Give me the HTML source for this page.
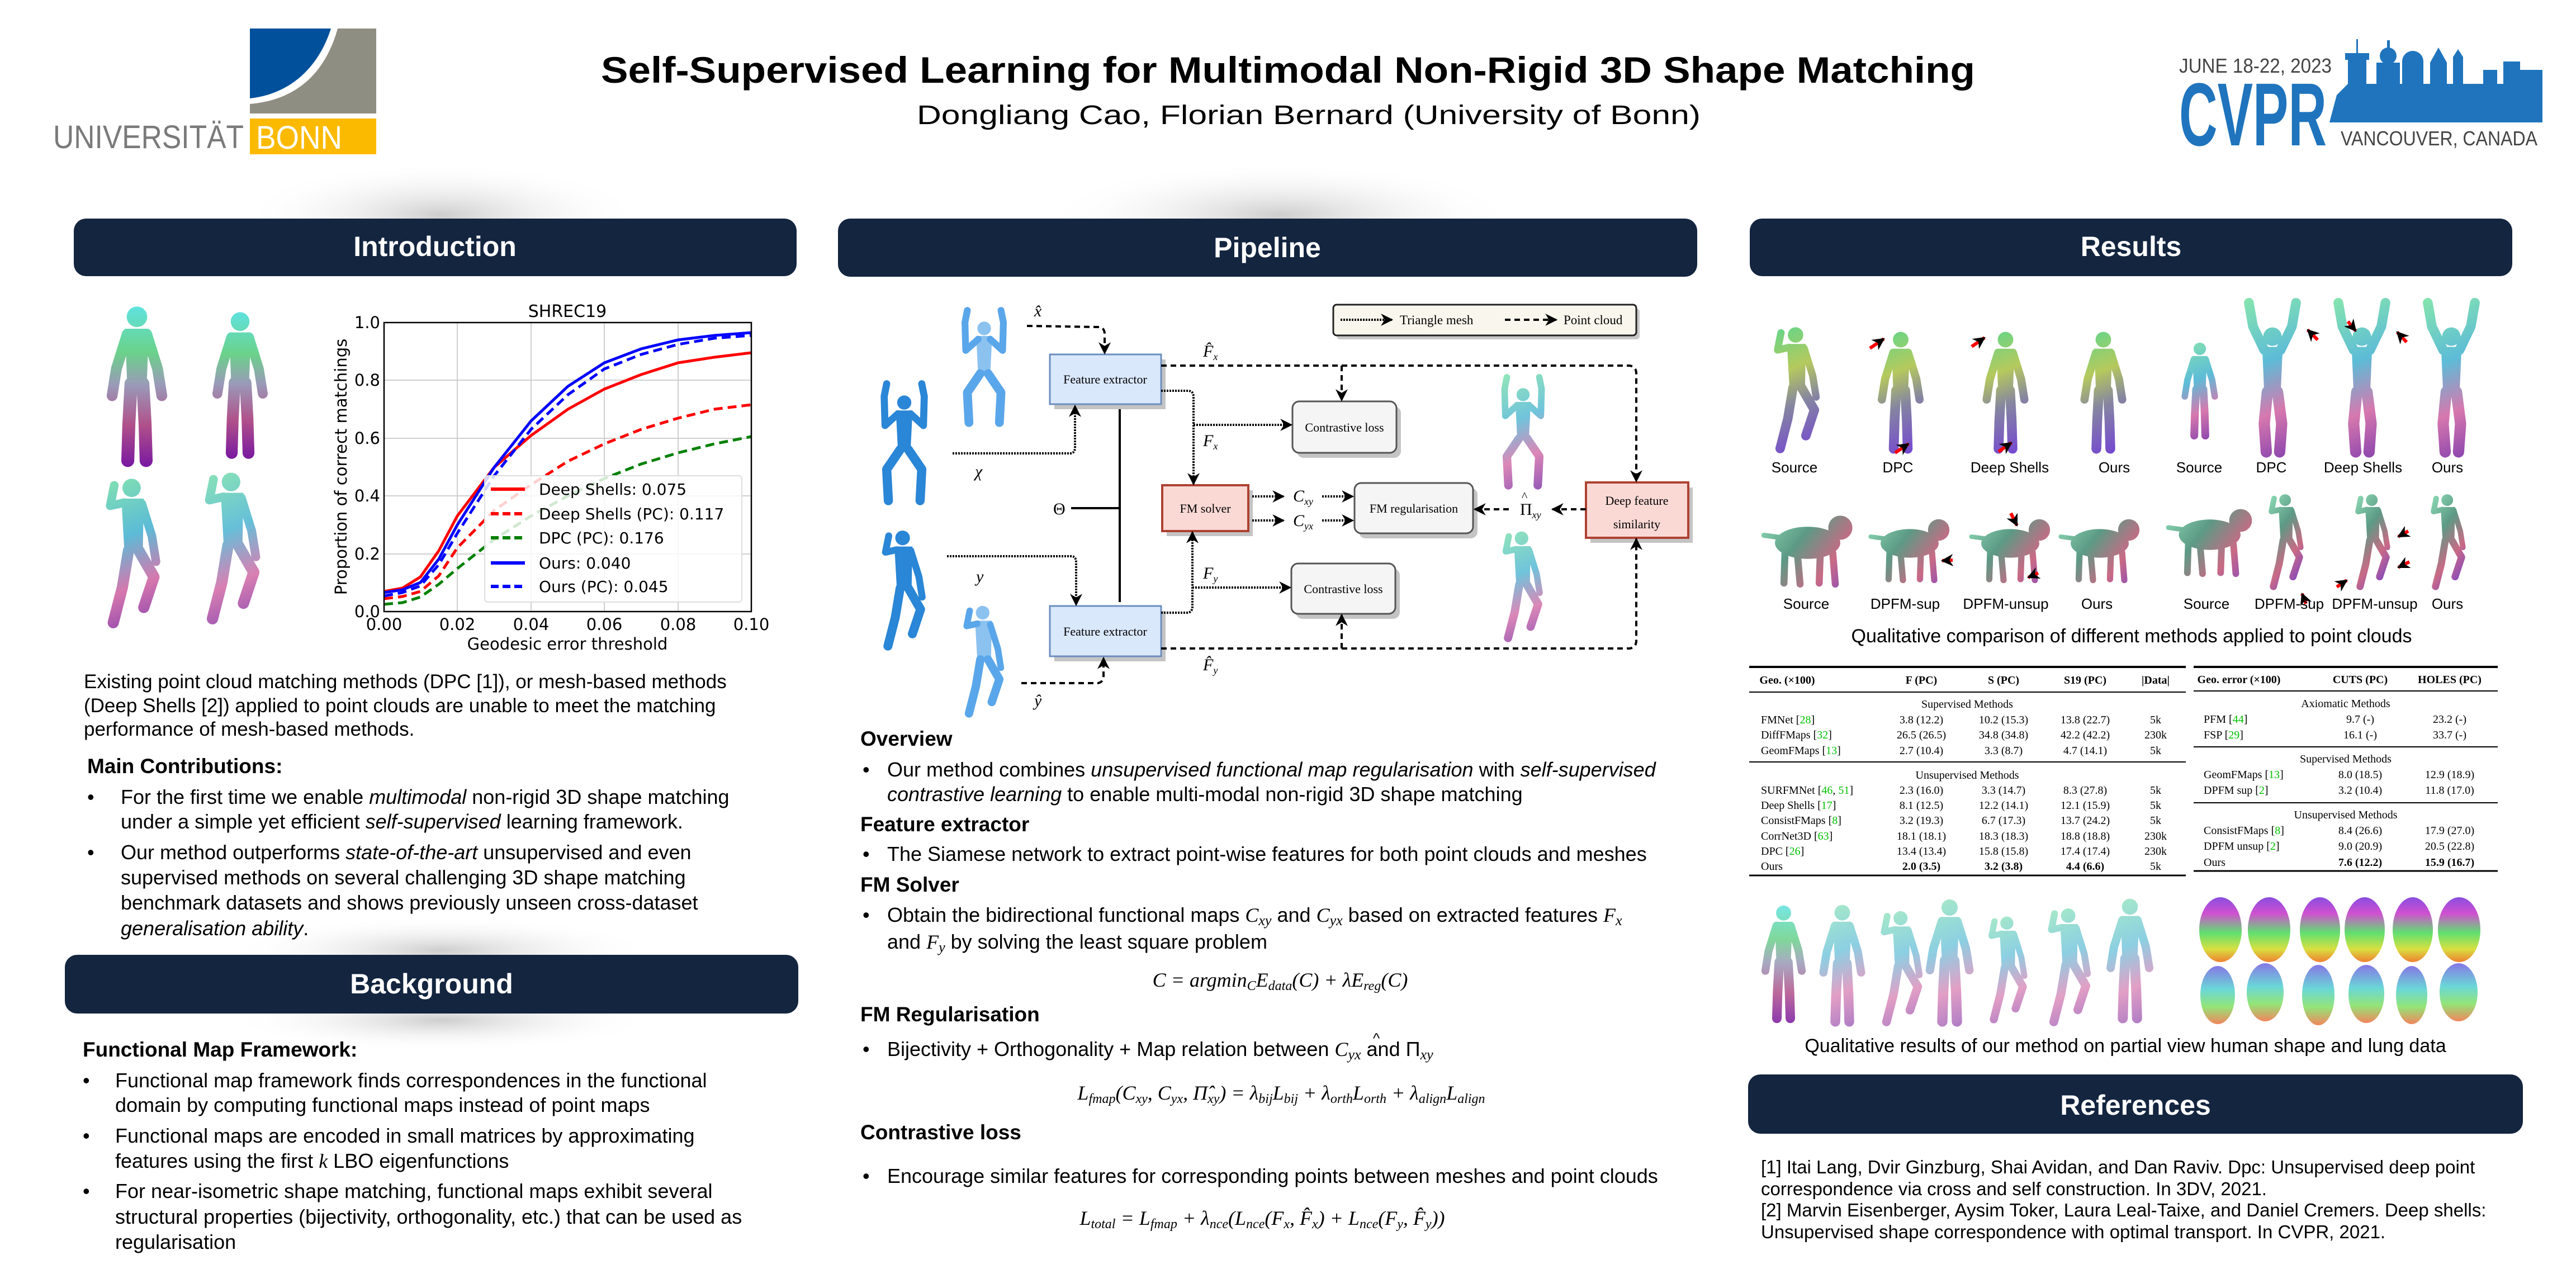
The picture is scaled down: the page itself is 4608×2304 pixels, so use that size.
<!DOCTYPE html>
<html><head><meta charset="utf-8"><style>
html,body{margin:0;padding:0;background:#fff;}
svg{display:block;}
</style></head><body>
<svg width="4608" height="2304" viewBox="0 0 4608 2304" xmlns="http://www.w3.org/2000/svg" font-family="Liberation Sans, Arial, sans-serif">
<defs>
<radialGradient id="glow" cx="0.5" cy="0.5" r="0.5"><stop offset="0" stop-color="#c8c8c8" stop-opacity="0.9"/><stop offset="1" stop-color="#ffffff" stop-opacity="0"/></radialGradient>
<linearGradient id="gM" gradientUnits="userSpaceOnUse" x1="0" y1="0" x2="0" y2="300"><stop offset="0" stop-color="#5fe3e3"/><stop offset="0.3" stop-color="#6ad28a"/><stop offset="0.5" stop-color="#9a9ab8"/><stop offset="0.75" stop-color="#b0508a"/><stop offset="1" stop-color="#7a1aa0"/></linearGradient>
<linearGradient id="gP" gradientUnits="userSpaceOnUse" x1="0" y1="0" x2="120" y2="300"><stop offset="0" stop-color="#3ed07a"/><stop offset="0.35" stop-color="#a8c040"/><stop offset="0.6" stop-color="#707090"/><stop offset="1" stop-color="#5a20d0"/></linearGradient>
<linearGradient id="gQ" gradientUnits="userSpaceOnUse" x1="0" y1="0" x2="120" y2="300"><stop offset="0" stop-color="#70e0a0"/><stop offset="0.4" stop-color="#40b0d0"/><stop offset="0.7" stop-color="#d060a0"/><stop offset="1" stop-color="#7020a0"/></linearGradient>
<linearGradient id="gC" gradientUnits="userSpaceOnUse" x1="0" y1="0" x2="200" y2="160"><stop offset="0" stop-color="#80e0b0"/><stop offset="0.4" stop-color="#408870"/><stop offset="0.7" stop-color="#c05070"/><stop offset="1" stop-color="#6020c0"/></linearGradient>
<linearGradient id="gL" x1="0" y1="0" x2="0" y2="1"><stop offset="0" stop-color="#8a4de0"/><stop offset="0.25" stop-color="#d050d0"/><stop offset="0.55" stop-color="#60e070"/><stop offset="0.8" stop-color="#d8e040"/><stop offset="1" stop-color="#f08030"/></linearGradient>
<linearGradient id="gL2" x1="0" y1="0" x2="0" y2="1"><stop offset="0" stop-color="#7060e0"/><stop offset="0.4" stop-color="#50d0d0"/><stop offset="0.7" stop-color="#80e060"/><stop offset="1" stop-color="#f07040"/></linearGradient>
<symbol id="man" viewBox="0 0 120 300" overflow="visible">
 <circle cx="60" cy="24" r="19" stroke="none"/>
 <path d="M38 46 L82 46 L78 152 L42 152 Z" stroke="none"/>
 <polyline points="42,56 22,120 14,170" fill="none" stroke-width="20" stroke-linecap="round" stroke-linejoin="round"/>
 <polyline points="78,56 98,120 106,170" fill="none" stroke-width="20" stroke-linecap="round" stroke-linejoin="round"/>
 <polyline points="49,148 45,222 43,290" fill="none" stroke-width="24" stroke-linecap="round" stroke-linejoin="round"/>
 <polyline points="71,148 75,222 77,290" fill="none" stroke-width="24" stroke-linecap="round" stroke-linejoin="round"/>
</symbol>
<symbol id="up" viewBox="0 0 120 300" overflow="visible">
 <circle cx="60" cy="70" r="18" stroke="none"/>
 <path d="M40 90 L80 90 L76 182 L44 182 Z" stroke="none"/>
 <polyline points="44,96 22,50 14,4" fill="none" stroke-width="19" stroke-linecap="round" stroke-linejoin="round"/>
 <polyline points="76,96 98,50 106,4" fill="none" stroke-width="19" stroke-linecap="round" stroke-linejoin="round"/>
 <polyline points="50,178 44,240 48,295" fill="none" stroke-width="22" stroke-linecap="round" stroke-linejoin="round"/>
 <polyline points="70,178 78,240 74,295" fill="none" stroke-width="22" stroke-linecap="round" stroke-linejoin="round"/>
</symbol>
<symbol id="squat" viewBox="0 0 120 300" overflow="visible">
 <circle cx="60" cy="55" r="17" stroke="none"/>
 <path d="M40 74 L80 74 L75 172 L45 172 Z" stroke="none"/>
 <polyline points="45,82 14,110 12,40 18,10" fill="none" stroke-width="17" stroke-linecap="round" stroke-linejoin="round"/>
 <polyline points="75,82 106,110 108,40 102,10" fill="none" stroke-width="17" stroke-linecap="round" stroke-linejoin="round"/>
 <polyline points="50,168 18,215 22,290" fill="none" stroke-width="22" stroke-linecap="round" stroke-linejoin="round"/>
 <polyline points="70,168 102,215 98,290" fill="none" stroke-width="22" stroke-linecap="round" stroke-linejoin="round"/>
</symbol>
<symbol id="kneel" viewBox="0 0 120 300" overflow="visible">
 <circle cx="56" cy="25" r="18" stroke="none"/>
 <path d="M36 46 L80 46 L78 152 L42 152 Z" stroke="none"/>
 <polyline points="42,54 14,60 22,20" fill="none" stroke-width="17" stroke-linecap="round" stroke-linejoin="round"/>
 <polyline points="76,56 96,120 104,170" fill="none" stroke-width="17" stroke-linecap="round" stroke-linejoin="round"/>
 <polyline points="50,148 38,220 20,290" fill="none" stroke-width="22" stroke-linecap="round" stroke-linejoin="round"/>
 <polyline points="70,148 100,200 80,260" fill="none" stroke-width="22" stroke-linecap="round" stroke-linejoin="round"/>
</symbol>
<symbol id="cat" viewBox="0 0 200 160" overflow="visible">
 <ellipse cx="95" cy="70" rx="65" ry="32" stroke="none"/>
 <circle cx="160" cy="40" r="24" stroke="none"/>
 <polyline points="45,60 8,55" fill="none" stroke-width="10" stroke-linecap="round"/>
 <polyline points="50,90 48,150" fill="none" stroke-width="14" stroke-linecap="round"/>
 <polyline points="75,95 80,152" fill="none" stroke-width="14" stroke-linecap="round"/>
 <polyline points="120,95 118,150" fill="none" stroke-width="14" stroke-linecap="round"/>
 <polyline points="145,90 150,152" fill="none" stroke-width="14" stroke-linecap="round"/>
</symbol>
<marker id="ar" viewBox="0 0 10 10" refX="9" refY="5" markerUnits="userSpaceOnUse" markerWidth="22" markerHeight="22" orient="auto"><path d="M0,0 L10,5 L0,10 L3,5 z" fill="#000"/></marker>
</defs>

<!-- ===== HEADER ===== -->
<path d="M447 51 L592 51 C570 120 520 168 447 176 Z" fill="#00509b"/>
<path d="M604 51 L673 51 L673 203 L447 203 L447 186 C540 178 585 120 604 51 Z" fill="#8f8e82"/>
<rect x="447" y="212" width="226" height="64" fill="#fbba00"/>
<text x="95" y="265" font-size="58" fill="#7a7a7a" textLength="341" lengthAdjust="spacingAndGlyphs">UNIVERSITÄT</text>
<text x="458" y="266" font-size="58" fill="#fff" textLength="154" lengthAdjust="spacingAndGlyphs">BONN</text>

<text x="2304" y="148" font-size="66" font-weight="bold" text-anchor="middle" textLength="2458" lengthAdjust="spacingAndGlyphs">Self-Supervised Learning for Multimodal Non-Rigid 3D Shape Matching</text>
<text x="2341" y="222" font-size="48" text-anchor="middle" textLength="1402" lengthAdjust="spacingAndGlyphs">Dongliang Cao, Florian Bernard (University of Bonn)</text>

<text x="3898" y="130" font-size="36" fill="#444" textLength="273" lengthAdjust="spacingAndGlyphs">JUNE 18-22, 2023</text>
<text x="3898" y="260" font-size="160" font-weight="bold" fill="#1f74bd" textLength="264" lengthAdjust="spacingAndGlyphs">CVPR</text>
<text x="4187" y="260" font-size="36" fill="#444" textLength="352" lengthAdjust="spacingAndGlyphs">VANCOUVER, CANADA</text>
<g fill="#1f74bd">
 <path d="M4167 219 L4180 170 L4200 150 L4548 150 L4548 219 Z"/>
 <rect x="4200" y="105" width="33" height="114"/><rect x="4195" y="95" width="43" height="12"/><rect x="4215" y="70" width="3" height="26"/>
 <rect x="4251" y="112" width="42" height="107"/><circle cx="4272" cy="100" r="15"/><rect x="4270" y="72" width="5" height="14"/>
 <rect x="4297" y="110" width="38" height="109"/><circle cx="4316" cy="110" r="19"/>
 <rect x="4347" y="112" width="30" height="107"/><path d="M4347 112 L4362 85 L4377 112 Z"/>
 <rect x="4388" y="102" width="18" height="117"/><path d="M4388 102 L4397 88 L4406 102 Z"/>
 <rect x="4442" y="125" width="25" height="94"/><rect x="4478" y="110" width="30" height="109"/><rect x="4508" y="125" width="40" height="94"/>
</g>

<!-- header glows -->
<ellipse cx="790" cy="385" rx="360" ry="95" fill="url(#glow)"/>
<ellipse cx="2290" cy="385" rx="420" ry="95" fill="url(#glow)"/>
<ellipse cx="790" cy="1700" rx="380" ry="60" fill="url(#glow)"/>
<ellipse cx="790" cy="1825" rx="380" ry="55" fill="url(#glow)"/>

<!-- section headers -->
<g fill="#13253f">
 <rect x="132" y="391" width="1293" height="103" rx="22"/>
 <rect x="1499" y="391" width="1537" height="104" rx="22"/>
 <rect x="3130" y="391" width="1364" height="103" rx="22"/>
 <rect x="116" y="1708" width="1312" height="105" rx="22"/>
 <rect x="3127" y="1922" width="1386" height="106" rx="22"/>
</g>
<g fill="#fff" font-weight="bold" font-size="50" text-anchor="middle">
 <text x="778" y="458">Introduction</text>
 <text x="2267" y="460">Pipeline</text>
 <text x="3812" y="458">Results</text>
 <text x="772" y="1777">Background</text>
 <text x="3820" y="1994">References</text>
</g>

<!-- ===== INTRO ===== -->
<use href="#man" x="187" y="540" width="116" height="297" fill="url(#gM)" stroke="url(#gM)"/>
<use href="#man" x="349" y="554" width="161" height="265" fill="url(#gM)" stroke="url(#gM)"/>
<use href="#kneel" x="183" y="850" width="112" height="273" fill="url(#gQ)" stroke="url(#gQ)" opacity="0.85"/>
<use href="#kneel" x="361" y="839" width="112" height="277" fill="url(#gQ)" stroke="url(#gQ)" opacity="0.8"/>

<!-- plot -->
<g stroke="#cfcfcf" stroke-width="2">
 <line x1="818" y1="577" x2="818" y2="1094"/><line x1="950" y1="577" x2="950" y2="1094"/><line x1="1081" y1="577" x2="1081" y2="1094"/><line x1="1213" y1="577" x2="1213" y2="1094"/>
 <line x1="687" y1="680" x2="1344" y2="680"/><line x1="687" y1="784" x2="1344" y2="784"/><line x1="687" y1="887" x2="1344" y2="887"/><line x1="687" y1="991" x2="1344" y2="991"/>
</g>
<g fill="none" stroke-width="5">
 <polyline stroke="#008000" stroke-dasharray="16 9" points="687,1081 720,1078 752,1068 785,1045 818,1017 884,965 950,923 1016,887 1081,856 1147,830 1213,810 1278,794 1344,781"/>
 <polyline stroke="#ff0000" stroke-dasharray="16 9" points="687,1071 720,1067 752,1058 785,1030 818,980 884,913 950,867 1016,825 1081,794 1147,768 1213,748 1278,732 1344,724"/>
 <polyline stroke="#ff0000" points="687,1058 720,1052 752,1032 785,985 818,923 884,836 950,779 1016,732 1081,696 1147,670 1213,649 1278,639 1344,631"/>
 <polyline stroke="#0000ff" stroke-dasharray="16 9" points="687,1066 720,1060 752,1048 785,1010 818,954 884,851 950,768 1016,706 1081,660 1147,634 1213,616 1278,605 1344,600"/>
 <polyline stroke="#0000ff" points="687,1060 720,1055 752,1042 785,1000 818,939 884,836 950,753 1016,691 1081,649 1147,624 1213,608 1278,600 1344,595"/>
</g>
<rect x="687" y="577" width="657" height="517" fill="none" stroke="#000" stroke-width="2.5"/>
<rect x="867" y="851" width="460" height="226" rx="6" fill="#fff" fill-opacity="0.82" stroke="#ddd" stroke-width="2"/>
<g stroke-width="6">
 <line x1="878" y1="875" x2="939" y2="875" stroke="#ff0000"/>
 <line x1="878" y1="919" x2="939" y2="919" stroke="#ff0000" stroke-dasharray="14 7"/>
 <line x1="878" y1="962" x2="939" y2="962" stroke="#008000" stroke-dasharray="14 7"/>
 <line x1="878" y1="1007" x2="939" y2="1007" stroke="#0000ff"/>
 <line x1="878" y1="1049" x2="939" y2="1049" stroke="#0000ff" stroke-dasharray="14 7"/>
</g>
<g font-family="DejaVu Sans, sans-serif" font-size="28">
 <text x="964" y="885">Deep Shells: 0.075</text>
 <text x="964" y="929">Deep Shells (PC): 0.117</text>
 <text x="964" y="972">DPC (PC): 0.176</text>
 <text x="964" y="1017">Ours: 0.040</text>
 <text x="964" y="1059">Ours (PC): 0.045</text>
 <text x="1015" y="567" font-size="30" text-anchor="middle">SHREC19</text>
 <g text-anchor="end" font-size="29"><text x="680" y="587">1.0</text><text x="680" y="690">0.8</text><text x="680" y="794">0.6</text><text x="680" y="897">0.4</text><text x="680" y="1001">0.2</text><text x="680" y="1104">0.0</text></g>
 <g text-anchor="middle" font-size="29"><text x="687" y="1127">0.00</text><text x="818" y="1127">0.02</text><text x="950" y="1127">0.04</text><text x="1081" y="1127">0.06</text><text x="1213" y="1127">0.08</text><text x="1344" y="1127">0.10</text></g>
 <text x="1015" y="1162" font-size="29" text-anchor="middle">Geodesic error threshold</text>
 <text transform="translate(620,835) rotate(-90)" font-size="29" text-anchor="middle">Proportion of correct matchings</text>
</g>

<!-- intro text -->
<g font-size="35" fill="#000">
 <text x="150" y="1231">Existing point cloud matching methods (DPC [1]), or mesh-based methods</text>
 <text x="150" y="1274">(Deep Shells [2]) applied to point clouds are unable to meet the matching</text>
 <text x="150" y="1316">performance of mesh-based methods.</text>
 <text x="156" y="1383" font-weight="bold" font-size="37">Main Contributions:</text>
 <g font-size="36">
 <text x="156" y="1438">•</text><text x="216" y="1438">For the first time we enable <tspan font-style="italic">multimodal</tspan> non-rigid 3D shape matching</text>
 <text x="216" y="1482">under a simple yet efficient <tspan font-style="italic">self-supervised</tspan> learning framework.</text>
 <text x="156" y="1537">•</text><text x="216" y="1537">Our method outperforms <tspan font-style="italic">state-of-the-art</tspan> unsupervised and even</text>
 <text x="216" y="1582">supervised methods on several challenging 3D shape matching</text>
 <text x="216" y="1627">benchmark datasets and shows previously unseen cross-dataset</text>
 <text x="216" y="1673"><tspan font-style="italic">generalisation ability</tspan>.</text>
 <text x="148" y="1890" font-weight="bold" font-size="37">Functional Map Framework:</text>
 <text x="148" y="1945">•</text><text x="206" y="1945">Functional map framework finds correspondences in the functional</text>
 <text x="206" y="1989">domain by computing functional maps instead of point maps</text>
 <text x="148" y="2044">•</text><text x="206" y="2044">Functional maps are encoded in small matrices by approximating</text>
 <text x="206" y="2089">features using the first <tspan font-family="Liberation Serif, serif" font-style="italic">k</tspan> LBO eigenfunctions</text>
 <text x="148" y="2143">•</text><text x="206" y="2143">For near-isometric shape matching, functional maps exhibit several</text>
 <text x="206" y="2189">structural properties (bijectivity, orthogonality, etc.) that can be used as</text>
 <text x="206" y="2234">regularisation</text>
 </g>
</g>

<!-- ===== PIPELINE DIAGRAM ===== -->
<use href="#squat" x="1546" y="679" width="143" height="224" fill="#2a86d6" stroke="#2a86d6"/>
<use href="#squat" x="1694" y="548" width="133" height="215" fill="#8cc2f0" stroke="#5aa6ea"/>
<use href="#kneel" x="1546" y="944" width="143" height="219" fill="#2a86d6" stroke="#2a86d6"/>
<use href="#kneel" x="1694" y="1079" width="133" height="204" fill="#8cc2f0" stroke="#5aa6ea"/>
<use href="#squat" x="2658" y="668" width="133" height="207" fill="url(#gQ)" stroke="url(#gQ)" opacity="0.75"/>
<use href="#kneel" x="2658" y="946" width="133" height="202" fill="url(#gQ)" stroke="url(#gQ)" opacity="0.75"/>

<!-- legend -->
<rect x="2391" y="552" width="542" height="55" rx="6" fill="#c8c8c8"/>
<rect x="2385" y="545" width="542" height="55" rx="6" fill="#f9f7ed" stroke="#222" stroke-width="3"/>
<line x1="2398" y1="572" x2="2490" y2="572" stroke="#000" stroke-width="4" stroke-dasharray="3 2" marker-end="url(#ar)"/>
<line x1="2692" y1="572" x2="2784" y2="572" stroke="#000" stroke-width="4" stroke-dasharray="10 7" marker-end="url(#ar)"/>
<g font-family="Liberation Serif, serif" font-size="23">
<text x="2504" y="580">Triangle mesh</text><text x="2797" y="580">Point cloud</text>
</g>

<!-- boxes with shadows -->
<g fill="#c4c4c4">
 <rect x="1886" y="643" width="199" height="89"/><rect x="1886" y="1093" width="199" height="90"/>
 <rect x="2087" y="877" width="154" height="82"/><rect x="2845" y="872" width="183" height="99"/>
 <rect x="2320" y="727" width="186" height="92" rx="12"/><rect x="2318" y="1017" width="186" height="90" rx="12"/>
 <rect x="2431" y="873" width="212" height="90" rx="12"/>
</g>
<rect x="1878" y="634" width="199" height="89" fill="#dae8fc" stroke="#6c8ebf" stroke-width="3"/>
<rect x="1878" y="1084" width="199" height="90" fill="#dae8fc" stroke="#6c8ebf" stroke-width="3"/>
<rect x="2079" y="868" width="154" height="82" fill="#fad9d5" stroke="#ae4132" stroke-width="4"/>
<rect x="2837" y="863" width="183" height="99" fill="#fad9d5" stroke="#ae4132" stroke-width="4"/>
<rect x="2312" y="718" width="186" height="92" rx="12" fill="#f5f5f5" stroke="#555" stroke-width="3"/>
<rect x="2310" y="1008" width="186" height="90" rx="12" fill="#f5f5f5" stroke="#555" stroke-width="3"/>
<rect x="2423" y="864" width="212" height="90" rx="12" fill="#f5f5f5" stroke="#555" stroke-width="3"/>
<g font-family="Liberation Serif, serif" font-size="22" text-anchor="middle">
 <text x="1977" y="686">Feature extractor</text>
 <text x="1977" y="1137">Feature extractor</text>
 <text x="2156" y="917">FM solver</text>
 <text x="2405" y="772">Contrastive loss</text>
 <text x="2403" y="1061">Contrastive loss</text>
 <text x="2529" y="917">FM regularisation</text>
 <text x="2928" y="903">Deep feature</text>
 <text x="2928" y="945">similarity</text>
</g>
<!-- connectors -->
<g fill="none" stroke="#000" stroke-width="4">
 <path d="M1837 583 L1966 585 Q1976 586 1976 598 L1976 632" stroke-dasharray="10 7" marker-end="url(#ar)"/>
 <path d="M1704 811 L1914 811 Q1923 811 1923 800 L1923 726" stroke-dasharray="3 2" marker-end="url(#ar)"/>
 <path d="M1694 995 L1916 995 Q1925 995 1925 1006 L1925 1082" stroke-dasharray="3 2" marker-end="url(#ar)"/>
 <path d="M1827 1222 L1964 1222 Q1974 1220 1974 1210 L1974 1177" stroke-dasharray="10 7" marker-end="url(#ar)"/>
 <path d="M2077 654 L2915 654 Q2927 656 2927 668 L2927 861" stroke-dasharray="10 7" marker-end="url(#ar)"/>
 <path d="M2400 654 L2400 716" stroke-dasharray="10 7" marker-end="url(#ar)"/>
 <path d="M2077 699 L2126 699 Q2135 700 2135 710 L2135 866" stroke-dasharray="3 2" marker-end="url(#ar)"/>
 <path d="M2135 760 L2310 760" stroke-dasharray="3 2" marker-end="url(#ar)"/>
 <path d="M2077 1096 L2124 1096 Q2133 1095 2133 1085 L2133 952" stroke-dasharray="3 2" marker-end="url(#ar)"/>
 <path d="M2133 1051 L2308 1051" stroke-dasharray="3 2" marker-end="url(#ar)"/>
 <path d="M2077 1160 L2915 1160 Q2927 1158 2927 1146 L2927 964" stroke-dasharray="10 7" marker-end="url(#ar)"/>
 <path d="M2400 1160 L2400 1100" stroke-dasharray="10 7" marker-end="url(#ar)"/>
 <path d="M2240 888 L2296 888" stroke-dasharray="3 2" marker-end="url(#ar)"/>
 <path d="M2365 888 L2420 888" stroke-dasharray="3 2" marker-end="url(#ar)"/>
 <path d="M2240 931 L2296 931" stroke-dasharray="3 2" marker-end="url(#ar)"/>
 <path d="M2365 931 L2420 931" stroke-dasharray="3 2" marker-end="url(#ar)"/>
 <path d="M2837 911 L2777 911" stroke-dasharray="10 7" marker-end="url(#ar)"/>
 <path d="M2699 911 L2638 911" stroke-dasharray="10 7" marker-end="url(#ar)"/>
 <path d="M2003 732 L2003 1077 M1916 909 L2003 909"/>
</g>
<g font-family="Liberation Serif, serif" font-style="italic" font-size="30">
 <text x="1850" y="566">x̂</text><text x="1744" y="853">χ</text><text x="1746" y="1041">y</text><text x="1850" y="1263">ŷ</text>
 <text x="1884" y="920" font-style="normal">Θ</text>
 <text x="2152" y="638">F̂<tspan font-size="18" dy="6">x</tspan></text>
 <text x="2152" y="798">F<tspan font-size="18" dy="6">x</tspan></text>
 <text x="2152" y="1035">F<tspan font-size="18" dy="6">y</tspan></text>
 <text x="2152" y="1199">F̂<tspan font-size="18" dy="6">y</tspan></text>
 <text x="2313" y="897">C<tspan font-size="18" dy="6">xy</tspan></text>
 <text x="2313" y="941">C<tspan font-size="18" dy="6">yx</tspan></text>
 <text x="2719" y="921" font-style="normal">Π<tspan font-size="18" dy="6" font-style="italic">xy</tspan></text>
 <text x="2722" y="895" font-style="normal" font-size="22">^</text>
</g>

<!-- pipeline text -->
<g font-size="36">
 <text x="1539" y="1334" font-weight="bold" font-size="37">Overview</text>
 <text x="1543" y="1389">•</text><text x="1587" y="1389">Our method combines <tspan font-style="italic">unsupervised functional map regularisation</tspan> with <tspan font-style="italic">self-supervised</tspan></text>
 <text x="1587" y="1433"><tspan font-style="italic">contrastive learning</tspan> to enable multi-modal non-rigid 3D shape matching</text>
 <text x="1539" y="1487" font-weight="bold" font-size="37">Feature extractor</text>
 <text x="1543" y="1540">•</text><text x="1587" y="1540">The Siamese network to extract point-wise features for both point clouds and meshes</text>
 <text x="1539" y="1595" font-weight="bold" font-size="37">FM Solver</text>
 <text x="1543" y="1649">•</text><text x="1587" y="1649">Obtain the bidirectional functional maps <tspan font-family="Liberation Serif, serif" font-style="italic">C<tspan font-size="26" dy="6">xy</tspan></tspan><tspan dy="-6"> and </tspan><tspan font-family="Liberation Serif, serif" font-style="italic">C<tspan font-size="26" dy="6">yx</tspan></tspan><tspan dy="-6"> based on extracted features </tspan><tspan font-family="Liberation Serif, serif" font-style="italic">F<tspan font-size="26" dy="6">x</tspan></tspan></text>
 <text x="1587" y="1697">and <tspan font-family="Liberation Serif, serif" font-style="italic">F<tspan font-size="26" dy="6">y</tspan></tspan><tspan dy="-6"> by solving the least square problem</tspan></text>
 <text x="2290" y="1765" text-anchor="middle" font-family="Liberation Serif, serif" font-style="italic" font-size="36">C = argmin<tspan font-size="24" dy="6">C</tspan><tspan dy="-6">E</tspan><tspan font-size="24" dy="6">data</tspan><tspan dy="-6">(C) + λE</tspan><tspan font-size="24" dy="6">reg</tspan><tspan dy="-6">(C)</tspan></text>
 <text x="1539" y="1827" font-weight="bold" font-size="37">FM Regularisation</text>
 <text x="1543" y="1889">•</text><text x="1587" y="1889">Bijectivity + Orthogonality + Map relation between <tspan font-family="Liberation Serif, serif" font-style="italic">C<tspan font-size="26" dy="6">yx</tspan></tspan><tspan dy="-6"> and  Π</tspan><tspan font-family="Liberation Serif, serif" font-style="italic" font-size="26" dy="6">xy</tspan></text>
 <text x="2456" y="1866" font-size="26">^</text>
 <text x="2292" y="1967" text-anchor="middle" font-family="Liberation Serif, serif" font-style="italic" font-size="36">L<tspan font-size="24" dy="6">fmap</tspan><tspan dy="-6">(C</tspan><tspan font-size="24" dy="6">xy</tspan><tspan dy="-6">, C</tspan><tspan font-size="24" dy="6">yx</tspan><tspan dy="-6">, Π̂</tspan><tspan font-size="24" dy="6">xy</tspan><tspan dy="-6">) = λ</tspan><tspan font-size="24" dy="6">bij</tspan><tspan dy="-6">L</tspan><tspan font-size="24" dy="6">bij</tspan><tspan dy="-6"> + λ</tspan><tspan font-size="24" dy="6">orth</tspan><tspan dy="-6">L</tspan><tspan font-size="24" dy="6">orth</tspan><tspan dy="-6"> + λ</tspan><tspan font-size="24" dy="6">align</tspan><tspan dy="-6">L</tspan><tspan font-size="24" dy="6">align</tspan></text>
 <text x="1539" y="2038" font-weight="bold" font-size="37">Contrastive loss</text>
 <text x="1543" y="2116">•</text><text x="1587" y="2116">Encourage similar features for corresponding points between meshes and point clouds</text>
 <text x="2258" y="2191" text-anchor="middle" font-family="Liberation Serif, serif" font-style="italic" font-size="36">L<tspan font-size="24" dy="6">total</tspan><tspan dy="-6"> = L</tspan><tspan font-size="24" dy="6">fmap</tspan><tspan dy="-6"> + λ</tspan><tspan font-size="24" dy="6">nce</tspan><tspan dy="-6">(L</tspan><tspan font-size="24" dy="6">nce</tspan><tspan dy="-6">(F</tspan><tspan font-size="24" dy="6">x</tspan><tspan dy="-6">, F̂</tspan><tspan font-size="24" dy="6">x</tspan><tspan dy="-6">) + L</tspan><tspan font-size="24" dy="6">nce</tspan><tspan dy="-6">(F</tspan><tspan font-size="24" dy="6">y</tspan><tspan dy="-6">, F̂</tspan><tspan font-size="24" dy="6">y</tspan><tspan dy="-6">))</tspan></text>
</g>

<!-- ===== RESULTS ===== -->
<g opacity="0.85">
 <use href="#kneel" x="3160" y="580" width="110" height="230" fill="url(#gP)" stroke="url(#gP)"/>
 <use href="#man" x="3340" y="590" width="120" height="220" fill="url(#gP)" stroke="url(#gP)"/>
 <use href="#man" x="3525" y="590" width="125" height="220" fill="url(#gP)" stroke="url(#gP)"/>
 <use href="#man" x="3700" y="590" width="125" height="220" fill="url(#gP)" stroke="url(#gP)"/>
 <use href="#man" x="3900" y="580" width="70" height="235" fill="url(#gQ)" stroke="url(#gQ)"/>
 <use href="#up" x="3995" y="538" width="140" height="275" fill="url(#gQ)" stroke="url(#gQ)"/>
 <use href="#up" x="4155" y="538" width="140" height="275" fill="url(#gQ)" stroke="url(#gQ)"/>
 <use href="#up" x="4315" y="538" width="140" height="275" fill="url(#gQ)" stroke="url(#gQ)"/>
 <use href="#cat" x="3148" y="905" width="180" height="150" fill="url(#gC)" stroke="url(#gC)"/>
 <use href="#cat" x="3340" y="905" width="160" height="150" fill="url(#gC)" stroke="url(#gC)"/>
 <use href="#cat" x="3520" y="905" width="160" height="150" fill="url(#gC)" stroke="url(#gC)"/>
 <use href="#cat" x="3680" y="905" width="160" height="150" fill="url(#gC)" stroke="url(#gC)"/>
 <use href="#cat" x="3872" y="880" width="170" height="170" fill="url(#gC)" stroke="url(#gC)"/>
 <use href="#kneel" x="4050" y="880" width="80" height="175" fill="url(#gC)" stroke="url(#gC)"/>
 <use href="#kneel" x="4205" y="880" width="80" height="175" fill="url(#gC)" stroke="url(#gC)"/>
 <use href="#kneel" x="4340" y="880" width="80" height="175" fill="url(#gC)" stroke="url(#gC)"/>
</g>
<g stroke="#ff0000" stroke-width="6" fill="none" marker-end="url(#ar)">
 <line x1="3345" y1="623" x2="3370" y2="606"/><line x1="3390" y1="810" x2="3414" y2="794"/>
 <line x1="3527" y1="620" x2="3550" y2="604"/><line x1="3575" y1="808" x2="3598" y2="792"/>
 <line x1="4146" y1="608" x2="4128" y2="590"/><line x1="4305" y1="612" x2="4288" y2="594"/><line x1="4200" y1="575" x2="4214" y2="592"/>
 <line x1="3493" y1="1002" x2="3474" y2="1003"/><line x1="3646" y1="1025" x2="3628" y2="1033"/><line x1="3597" y1="918" x2="3608" y2="940"/>
 <line x1="4308" y1="950" x2="4290" y2="960"/><line x1="4310" y1="1005" x2="4290" y2="1015"/><line x1="4180" y1="1050" x2="4198" y2="1038"/><line x1="4125" y1="1080" x2="4118" y2="1062"/>
</g>
<g font-size="26" text-anchor="middle">
 <text x="3210" y="845">Source</text><text x="3395" y="845">DPC</text><text x="3595" y="845">Deep Shells</text><text x="3782" y="845">Ours</text>
 <text x="3934" y="845">Source</text><text x="4063" y="845">DPC</text><text x="4227" y="845">Deep Shells</text><text x="4378" y="845">Ours</text>
 <text x="3231" y="1089">Source</text><text x="3408" y="1089">DPFM-sup</text><text x="3588" y="1089">DPFM-unsup</text><text x="3751" y="1089">Ours</text>
 <text x="3947" y="1089">Source</text><text x="4095" y="1089">DPFM-sup</text><text x="4248" y="1089">DPFM-unsup</text><text x="4378" y="1089">Ours</text>
</g>
<text x="3813" y="1149" font-size="34" text-anchor="middle">Qualitative comparison of different methods applied to point clouds</text>

<!-- tables -->
<g stroke="#000">
 <line x1="3129" y1="1193" x2="3910" y2="1193" stroke-width="4"/>
 <line x1="3129" y1="1238" x2="3910" y2="1238" stroke-width="2"/>
 <line x1="3129" y1="1363" x2="3910" y2="1363" stroke-width="2"/>
 <line x1="3129" y1="1566" x2="3910" y2="1566" stroke-width="3"/>
 <line x1="3924" y1="1193" x2="4468" y2="1193" stroke-width="4"/>
 <line x1="3924" y1="1236" x2="4468" y2="1236" stroke-width="2"/>
 <line x1="3924" y1="1336" x2="4468" y2="1336" stroke-width="2"/>
 <line x1="3924" y1="1436" x2="4468" y2="1436" stroke-width="2"/>
 <line x1="3924" y1="1558" x2="4468" y2="1558" stroke-width="3"/>
</g>
<g font-family="Liberation Serif, serif" font-size="20">
 <g font-weight="bold" text-anchor="middle"><text x="3197" y="1223">Geo. (×100)</text><text x="3437" y="1223">F (PC)</text><text x="3584" y="1223">S (PC)</text><text x="3730" y="1223">S19 (PC)</text><text x="3856" y="1223">|Data|</text>
 <text x="4005" y="1222">Geo. error (×100)</text><text x="4222" y="1222">CUTS (PC)</text><text x="4382" y="1222">HOLES (PC)</text></g>
 <g text-anchor="middle"><text x="3519" y="1266">Supervised Methods</text><text x="3519" y="1393">Unsupervised Methods</text>
 <text x="4196" y="1265">Axiomatic Methods</text><text x="4196" y="1364">Supervised Methods</text><text x="4196" y="1464">Unsupervised Methods</text></g>
 <g>
  <text x="3150" y="1294">FMNet [<tspan fill="#00c000">28</tspan>]</text>
  <text x="3150" y="1321">DiffFMaps [<tspan fill="#00c000">32</tspan>]</text>
  <text x="3150" y="1349">GeomFMaps [<tspan fill="#00c000">13</tspan>]</text>
  <text x="3150" y="1420">SURFMNet [<tspan fill="#00c000">46</tspan>, <tspan fill="#00c000">51</tspan>]</text>
  <text x="3150" y="1447">Deep Shells [<tspan fill="#00c000">17</tspan>]</text>
  <text x="3150" y="1474">ConsistFMaps [<tspan fill="#00c000">8</tspan>]</text>
  <text x="3150" y="1502">CorrNet3D [<tspan fill="#00c000">63</tspan>]</text>
  <text x="3150" y="1529">DPC [<tspan fill="#00c000">26</tspan>]</text>
  <text x="3150" y="1556">Ours</text>
  <text x="3942" y="1293">PFM [<tspan fill="#00c000">44</tspan>]</text>
  <text x="3942" y="1321">FSP [<tspan fill="#00c000">29</tspan>]</text>
  <text x="3942" y="1392">GeomFMaps [<tspan fill="#00c000">13</tspan>]</text>
  <text x="3942" y="1420">DPFM sup [<tspan fill="#00c000">2</tspan>]</text>
  <text x="3942" y="1492">ConsistFMaps [<tspan fill="#00c000">8</tspan>]</text>
  <text x="3942" y="1520">DPFM unsup [<tspan fill="#00c000">2</tspan>]</text>
  <text x="3942" y="1549">Ours</text>
 </g>
 <g text-anchor="middle">
  <text x="3437" y="1294">3.8 (12.2)</text><text x="3584" y="1294">10.2 (15.3)</text><text x="3730" y="1294">13.8 (22.7)</text><text x="3856" y="1294">5k</text>
  <text x="3437" y="1321">26.5 (26.5)</text><text x="3584" y="1321">34.8 (34.8)</text><text x="3730" y="1321">42.2 (42.2)</text><text x="3856" y="1321">230k</text>
  <text x="3437" y="1349">2.7 (10.4)</text><text x="3584" y="1349">3.3 (8.7)</text><text x="3730" y="1349">4.7 (14.1)</text><text x="3856" y="1349">5k</text>
  <text x="3437" y="1420">2.3 (16.0)</text><text x="3584" y="1420">3.3 (14.7)</text><text x="3730" y="1420">8.3 (27.8)</text><text x="3856" y="1420">5k</text>
  <text x="3437" y="1447">8.1 (12.5)</text><text x="3584" y="1447">12.2 (14.1)</text><text x="3730" y="1447">12.1 (15.9)</text><text x="3856" y="1447">5k</text>
  <text x="3437" y="1474">3.2 (19.3)</text><text x="3584" y="1474">6.7 (17.3)</text><text x="3730" y="1474">13.7 (24.2)</text><text x="3856" y="1474">5k</text>
  <text x="3437" y="1502">18.1 (18.1)</text><text x="3584" y="1502">18.3 (18.3)</text><text x="3730" y="1502">18.8 (18.8)</text><text x="3856" y="1502">230k</text>
  <text x="3437" y="1529">13.4 (13.4)</text><text x="3584" y="1529">15.8 (15.8)</text><text x="3730" y="1529">17.4 (17.4)</text><text x="3856" y="1529">230k</text>
  <text x="3437" y="1556" font-weight="bold">2.0 (3.5)</text><text x="3584" y="1556" font-weight="bold">3.2 (3.8)</text><text x="3730" y="1556" font-weight="bold">4.4 (6.6)</text><text x="3856" y="1556">5k</text>
  <text x="4222" y="1293">9.7 (-)</text><text x="4382" y="1293">23.2 (-)</text>
  <text x="4222" y="1321">16.1 (-)</text><text x="4382" y="1321">33.7 (-)</text>
  <text x="4222" y="1392">8.0 (18.5)</text><text x="4382" y="1392">12.9 (18.9)</text>
  <text x="4222" y="1420">3.2 (10.4)</text><text x="4382" y="1420">11.8 (17.0)</text>
  <text x="4222" y="1492">8.4 (26.6)</text><text x="4382" y="1492">17.9 (27.0)</text>
  <text x="4222" y="1520">9.0 (20.9)</text><text x="4382" y="1520">20.5 (22.8)</text>
  <text x="4222" y="1549" font-weight="bold">7.6 (12.2)</text><text x="4382" y="1549" font-weight="bold">15.9 (16.7)</text>
 </g>
</g>

<!-- partial humans and lungs -->
<g opacity="0.85">
 <use href="#man" x="3148" y="1610" width="85" height="225" fill="url(#gM)" stroke="url(#gM)"/>
 <use href="#man" x="3248" y="1615" width="95" height="220" fill="url(#gQ)" stroke="url(#gQ)" opacity="0.7"/>
 <use href="#kneel" x="3355" y="1625" width="95" height="210" fill="url(#gQ)" stroke="url(#gQ)" opacity="0.7"/>
 <use href="#man" x="3440" y="1605" width="95" height="230" fill="url(#gQ)" stroke="url(#gQ)" opacity="0.7"/>
 <use href="#kneel" x="3545" y="1635" width="95" height="195" fill="url(#gQ)" stroke="url(#gQ)" opacity="0.7"/>
 <use href="#kneel" x="3650" y="1620" width="105" height="215" fill="url(#gQ)" stroke="url(#gQ)" opacity="0.7"/>
 <use href="#man" x="3765" y="1599" width="90" height="235" fill="url(#gQ)" stroke="url(#gQ)" opacity="0.7"/>
</g>
<g>
 <ellipse cx="3972" cy="1663" rx="38" ry="58" fill="url(#gL)"/>
 <ellipse cx="4059" cy="1663" rx="38" ry="58" fill="url(#gL)"/>
 <ellipse cx="4150" cy="1663" rx="36" ry="58" fill="url(#gL)"/>
 <ellipse cx="4230" cy="1663" rx="36" ry="58" fill="url(#gL)"/>
 <ellipse cx="4316" cy="1663" rx="36" ry="58" fill="url(#gL)"/>
 <ellipse cx="4399" cy="1663" rx="38" ry="58" fill="url(#gL)"/>
 <ellipse cx="3967" cy="1780" rx="31" ry="52" fill="url(#gL2)" opacity="0.85"/>
 <ellipse cx="4052" cy="1775" rx="33" ry="52" fill="url(#gL2)" opacity="0.85"/>
 <ellipse cx="4147" cy="1780" rx="29" ry="54" fill="url(#gL2)" opacity="0.85"/>
 <ellipse cx="4233" cy="1778" rx="32" ry="52" fill="url(#gL2)" opacity="0.85"/>
 <ellipse cx="4314" cy="1780" rx="28" ry="52" fill="url(#gL2)" opacity="0.85"/>
 <ellipse cx="4398" cy="1775" rx="34" ry="52" fill="url(#gL2)" opacity="0.85"/>
</g>
<text x="3802" y="1882" font-size="34" text-anchor="middle">Qualitative results of our method on partial view human shape and lung data</text>

<g font-size="33">
 <text x="3150" y="2099">[1] Itai Lang, Dvir Ginzburg, Shai Avidan, and Dan Raviv. Dpc: Unsupervised deep point</text>
 <text x="3150" y="2138">correspondence via cross and self construction. In 3DV, 2021.</text>
 <text x="3150" y="2176">[2] Marvin Eisenberger, Aysim Toker, Laura Leal-Taixe, and Daniel Cremers. Deep shells:</text>
 <text x="3150" y="2215">Unsupervised shape correspondence with optimal transport. In CVPR, 2021.</text>
</g>
</svg>
</body></html>
